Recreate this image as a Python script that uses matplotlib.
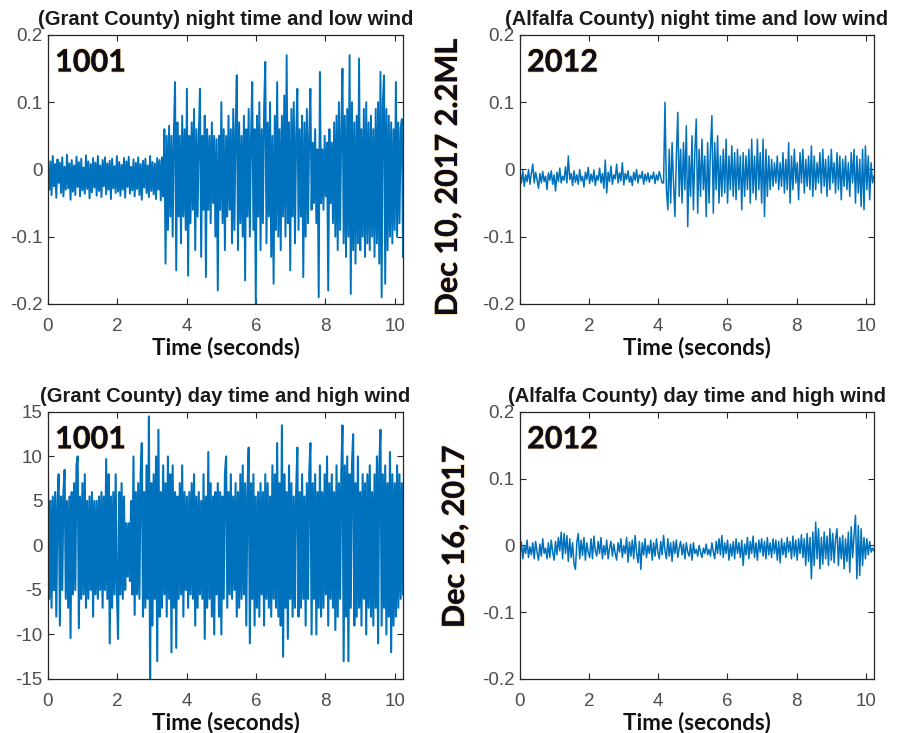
import numpy as np
import matplotlib
matplotlib.use("Agg")
import matplotlib.pyplot as plt
import matplotlib.patheffects as pe

plt.rcParams['axes.unicode_minus'] = False

# recorded ground motion, 10.24 s windows
DURATION = 10.24

grant_night = [
    0.005, -0.03, 0.012, -0.038, 0.02, -0.025, 0.008, -0.042, 0.015, -0.02,
    0.01, -0.035, 0.018, -0.04, 0.004, -0.03, 0.022, -0.028, 0.009, -0.045,
    0.014, -0.033, 0.006, -0.038, 0.019, -0.026, 0.011, -0.04, 0.016, -0.031,
    0.003, -0.036, 0.021, -0.029, 0.012, -0.043, 0.008, -0.034, 0.017, -0.027,
    0.01, -0.039, 0.02, -0.032, 0.006, -0.041, 0.014, -0.025, 0.018, -0.037,
    0.009, -0.03, 0.013, -0.044, 0.016, -0.028, 0.005, -0.035, 0.02, -0.033,
    0.011, -0.039, 0.007, -0.03, 0.017, -0.042, 0.012, -0.026, 0.019, -0.036,
    0.004, -0.031, 0.015, -0.04, 0.01, -0.029, 0.018, -0.038, 0.008, -0.045,
    0.013, -0.027, 0.016, -0.035, 0.006, -0.041, 0.02, -0.032, 0.011, -0.037,
    0.009, -0.044, 0.017, -0.03, 0.014, -0.046, 0.018, -0.04,
    0.06, -0.14,
    0.05, -0.09, 0.065, -0.07, 0.05, -0.1, 0.055, 0.13, -0.15, 0.07,
    -0.07, 0.05, -0.11, 0.08, -0.07, 0.06, -0.09, 0.12, -0.158, 0.05,
    -0.08, 0.07, -0.06, 0.09, -0.12, 0.06, -0.07, 0.05, 0.12, -0.13,
    0.05, -0.06, 0.08, -0.16, 0.06, -0.06, 0.05, -0.08, 0.07, -0.05,
    0.05, -0.1, 0.045, -0.18, 0.05, -0.06, 0.10, -0.08, 0.06, -0.12,
    0.05, -0.07, 0.08, -0.06, 0.06, -0.11, 0.09, -0.09, 0.06, 0.14,
    -0.12, 0.07, -0.08, 0.05, -0.1, 0.08, -0.165, 0.06, -0.07, 0.09,
    -0.1, 0.05, 0.13, -0.09, 0.06, -0.2, 0.08, -0.07, 0.1, -0.12,
    0.06, -0.08, 0.09, 0.16, -0.11, 0.07, -0.07, 0.1, -0.13, 0.05,
    -0.17, 0.08, -0.09, 0.13, -0.1, 0.06, -0.12, 0.08, -0.07, 0.11,
    -0.1, 0.17, -0.08, 0.07, -0.15, 0.09, -0.07, 0.1, -0.11, 0.05,
    0.12, -0.09, 0.06, -0.07, 0.08, -0.16, 0.07, -0.1, 0.09, -0.08,
    0.05, 0.12, -0.06, 0.04, -0.05, 0.06, -0.08, 0.03, -0.19, 0.145,
    -0.05, 0.03, -0.06, 0.05, -0.04, 0.04, -0.18, 0.06, -0.05, 0.04,
    -0.08, 0.07, -0.1, 0.08, -0.12, 0.1, -0.09, 0.06, 0.15, -0.11,
    0.08, -0.13, 0.09, -0.1, 0.17, -0.185, 0.1, -0.12, 0.07, -0.14,
    0.08, -0.11, 0.165, -0.12, 0.06, -0.1, 0.09, -0.13, 0.10, -0.11,
    0.07, -0.12, 0.08, -0.1, 0.06, -0.13, 0.09, -0.11, 0.1, -0.14,
    0.145, -0.19, 0.1, 0.14, -0.17, 0.09, -0.12, 0.08, -0.1, 0.07,
    -0.11, 0.06, -0.09, 0.13, -0.1, 0.07, -0.08, 0.06, 0.075, -0.13,
]

alfalfa_night = [
    -0.005, -0.02, -0.002, -0.025, -0.008, -0.018, 0.0, -0.022, -0.006, 0.008,
    -0.02, -0.004, -0.015, -0.028, -0.006, -0.02, -0.003, -0.018, -0.01, -0.03,
    -0.005, -0.016, -0.002, -0.022, -0.008, -0.032, -0.004, -0.018, 0.002, -0.02,
    -0.01, -0.016, 0.004, -0.02, 0.02, -0.015, -0.006, -0.024, -0.002, -0.019,
    -0.008, -0.022, 0.0, -0.017, -0.01, -0.026, -0.004, -0.015, 0.003, -0.021,
    -0.007, -0.018, -0.001, -0.024, -0.009, -0.016, 0.002, -0.02, -0.006, -0.028,
    0.014, -0.035, -0.004, -0.018, 0.005, -0.022, -0.008, -0.014, 0.008, -0.02,
    -0.005, -0.017, 0.01, -0.023, -0.006, -0.015, -0.002, -0.019, -0.01, -0.024,
    -0.004, -0.016, 0.0, -0.02, -0.008, -0.013, -0.003, -0.022, -0.007, -0.017,
    -0.005, -0.019, -0.009, -0.014, -0.004, -0.021, -0.008, -0.016, -0.003, -0.012,
    -0.02,
    -0.02, 0.1, -0.03, -0.06, 0.03, -0.05, 0.04, -0.02, -0.07, 0.02,
    0.085, -0.04, 0.03, -0.05, 0.04, -0.03, 0.065, -0.085, 0.02, -0.04,
    0.05, -0.06, 0.025, 0.075, -0.065, 0.03, -0.04, 0.045, -0.03, 0.02,
    -0.07, 0.04, -0.05, 0.03, 0.08, -0.065, 0.04, -0.03, 0.05, -0.05,
    0.02, -0.04, 0.03, -0.035, 0.045, -0.05, 0.02, -0.03, 0.035, -0.04,
    0.025, -0.045, 0.03, -0.03, 0.02, -0.06, 0.025, -0.04, 0.02, -0.03,
    0.03, -0.05, 0.045, -0.035, 0.02, -0.045, 0.045, -0.03, 0.025, -0.05,
    0.045, -0.07, 0.03, -0.04, 0.02, -0.03, 0.015, -0.025, 0.01, -0.02,
    0.02, -0.03, 0.01, -0.025, 0.025, -0.035, 0.015, -0.03, 0.04, -0.05,
    0.02, -0.03, 0.03, -0.02, 0.01, -0.045, 0.025, -0.02, 0.03, -0.035,
    0.015, -0.025, 0.02, -0.03, 0.035, -0.04, 0.02, -0.03, 0.01, -0.02,
    0.025, -0.035, 0.03, -0.025, 0.015, -0.04, 0.02, -0.03, 0.03, -0.02,
    0.01, -0.035, 0.025, -0.03, 0.02, -0.045, 0.015, -0.025, 0.02, -0.03,
    0.01, -0.04, 0.025, -0.02, 0.03, -0.05, 0.02, -0.035, 0.015, -0.055,
    0.03, -0.06, 0.035, -0.03, 0.02, -0.045, 0.01, -0.02, -0.01,
]

grant_day = [
    7.5, -6, 5, -7, 5.5, -5, 6, -8, 5, 8,
    -9, 5.5, -5, 6, 8.5, -6, 5, -7, 5.5, -10.4,
    6, -5.5, 7, -5, 9, 10, -9.3, 5.5, -6, 7,
    -5.5, 8, -7, 5, -6, 5.5, -5, 6, -8, 5,
    -5.5, 5, -6, 5.5, -5, 6, -7, 5.5, -5, 9.7,
    -6, 8, -11, 5.5, -7, 6, -5.5, 8, -5, -10.5,
    6, -5.5, 7, -6, 5.5, -5, 2.5, -3.5, 2.5, -4,
    5, -5.5, 10, -7.8, 6, -5.5, 7, -6, 8, 11.5,
    -8, 6, -7, 9, -6, 14.5, -15, 7, -9, 8,
    -6, 10, -13, 13, -8, 6, -7, 9, -5.5, 7,
    -8, 10, -6, 8, -12, 9, -7, 6, -11.5, 5.5,
    -6, 7, -5.5, 9, -8, 6, -5, 5.5, -7, 6,
    -5.5, 7, -6, 8, -9, 5.5, -7, 6, -5.5, 5,
    -6, 8, -10.5, 5.5, -7, 10.5, -6, 7, -8, 5.5,
    -10, 6, -5.5, 7, -8, 6, -10, 5.5, -6, 8,
    10, -7, 6, -5.5, 8, -6, 5.5, -5, 7, -8,
    6, -7, 8, -6, 9, -5.5, 7, -9, 6, 11,
    -11, 7, -6, 8, -9, 5.5, -7, 6, -8, 7,
    -5.5, 6, -9, 8, -6, 7, -7, 5.5, -8, 9,
    -6, 8, -7, 11.5, -8, 7, -9, 13.5, -12.5, 8,
    -7, 6, -10.5, 9, -6, 7, -8, 5.5, -7, 6,
    11, -8, 6, -7, 8, -6, 5.5, -9, 7, -6,
    8, 11.5, -10, 7, -6, 8, -10, 6, -7, 9,
    -8, 6, -7, 8, -5.5, 10, -9, 7, -6, 8,
    -7, 6, -9.5, 9, -8, 7, -6, 8, 13.5, -13,
    9, -8, 10, -13, 8, -7, 9, 12.5, -9, 7,
    -8, 10, -7, 6, -9, 8, -6, 7, -10, 8,
    -7, 9, -8, 6, -9, 8, -7, 10, -11, 9,
    13, -9, 8, -7, 9, -10, 7, -8, 10.5, -12,
    8, -9, 7, -8, 9, -7, 8, -6, 7, -5.5,
]

alfalfa_day = [
    -0.015, 0.005, -0.02, 0.0, -0.012, 0.008, -0.018, -0.002, -0.014, 0.004,
    -0.02, 0.006, -0.01, -0.022, 0.002, -0.016, 0.01, -0.012, -0.004, -0.02,
    0.004, -0.018, 0.008, -0.01, -0.022, 0.006, -0.014, 0.012, -0.008, 0.02,
    -0.02, 0.018, -0.012, 0.015, -0.024, 0.01, -0.018, 0.004, -0.028, -0.036,
    0.005, 0.018, -0.02, 0.008, -0.015, 0.012, -0.022, 0.004, -0.01, -0.018,
    0.01, -0.02, 0.014, -0.008, -0.016, 0.006, -0.012, 0.012, -0.02, 0.0,
    -0.014, 0.008, -0.02, -0.004, 0.006, -0.016, 0.002, -0.012, -0.022, 0.004,
    -0.01, 0.01, -0.018, 0.0, -0.012, 0.012, -0.025, 0.005, -0.016, 0.008,
    -0.02, 0.015, -0.01, -0.026, 0.006, -0.036, 0.004, -0.014, 0.01, -0.018,
    0.0, -0.012, 0.008, -0.022, 0.004, -0.016, 0.01, -0.01, -0.02, 0.006,
    -0.014, 0.015, -0.008, -0.02, 0.01, -0.016, 0.004, -0.024, 0.006, -0.012,
    0.008, -0.018, -0.004, 0.006, -0.014, 0.002, -0.02, 0.004, -0.01, -0.016,
    0.002, -0.022, 0.004, -0.012, -0.006, -0.016, 0.0, -0.01, -0.018, -0.004,
    -0.012, 0.002, -0.014, -0.006, -0.016, 0.004, -0.01, -0.02, 0.006, -0.012,
    0.01, -0.014, 0.015, -0.018, 0.004, -0.012, 0.008, -0.022, 0.002, -0.016,
    0.006, -0.02, 0.01, -0.012, 0.004, -0.018, 0.008, -0.03, 0.002, -0.014,
    0.012, -0.02, 0.006, -0.012, 0.014, -0.018, 0.004, -0.022, 0.008, -0.01,
    0.01, -0.016, 0.006, -0.02, 0.012, -0.014, 0.004, -0.018, 0.01, -0.012,
    0.008, -0.022, 0.006, -0.026, 0.01, -0.014, 0.004, -0.018, 0.012, -0.01,
    0.006, -0.02, 0.014, -0.016, 0.008, -0.022, 0.01, -0.012, 0.016, -0.018,
    0.01, -0.03, 0.018, -0.024, 0.012, -0.05, 0.02, -0.03, 0.035, -0.02,
    0.025, -0.035, 0.012, -0.028, 0.02, -0.02, 0.014, -0.03, 0.025, -0.022,
    0.018, -0.026, 0.01, 0.025, -0.03, 0.012, -0.02, 0.015, -0.035, 0.01,
    -0.024, 0.02, -0.04, 0.028, -0.018, 0.015, 0.045, -0.05, 0.03, -0.045,
    0.025, -0.03, 0.012, -0.02, 0.01, -0.014, 0.006, -0.01, -0.004, -0.008,
]

small_ticks = [-0.2, -0.1, 0, 0.1, 0.2]
small_labels = ['-0.2', '-0.1', '0', '0.1', '0.2']
big_ticks = [-15, -10, -5, 0, 5, 10, 15]
big_labels = ['-15', '-10', '-5', '0', '5', '10', '15']
time_ticks = [0, 2, 4, 6, 8, 10]

LINE = '#0072BD'
TICK_GREY = '#4d4d4d'
glow = [pe.withStroke(linewidth=1.3, foreground='#e9a23b', alpha=0.45), pe.Normal()]

panels = [
    ([0.0535, 0.5853, 0.3958, 0.367], grant_night, '(Grant County) night time and low wind',
     small_ticks, small_labels, '1001', 1.4),
    ([0.5797, 0.5853, 0.3946, 0.367], alfalfa_night, '(Alfalfa County) night time and low wind',
     small_ticks, small_labels, '2012', 1.1),
    ([0.0535, 0.0737, 0.3958, 0.3643], grant_day, '(Grant County) day time and high wind',
     big_ticks, big_labels, '1001', 1.5),
    ([0.5797, 0.0737, 0.3946, 0.3643], alfalfa_day, '(Alfalfa County) day time and high wind',
     small_ticks, small_labels, '2012', 1.1),
]

fig = plt.figure(figsize=(8.97, 7.33), dpi=100)

for rect, sig, title, yt, yl, station, lw in panels:
    ax = fig.add_axes(rect)
    t = np.linspace(0, DURATION, len(sig))
    ax.plot(t, sig, color=LINE, lw=lw)
    ax.set_xlim(0, DURATION)
    ax.set_ylim(yt[0], yt[-1])
    ax.set_xticks(time_ticks)
    ax.set_xticklabels([str(v) for v in time_ticks])
    ax.set_yticks(yt)
    ax.set_yticklabels(yl)
    ax.tick_params(direction='in', top=True, right=True, length=4, width=0.8,
                   colors='#262626', labelcolor=TICK_GREY, labelsize=13.5)
    ax.tick_params(axis='x', pad=10)
    ax.tick_params(axis='y', pad=4)
    for lab in ax.get_xticklabels() + ax.get_yticklabels():
        lab.set_fontfamily('Liberation Sans')
    for sp in ax.spines.values():
        sp.set_color('#262626')
        sp.set_linewidth(0.9)
    ax.set_title(title, fontsize=14.5, fontweight='bold', family='Liberation Sans',
                 color='#1a1a1a', pad=7)
    ax.set_xlabel('Time (seconds)', fontsize=16, fontweight='bold', family='Lato',
                  color='#111111', labelpad=1)
    ax.text(0.02, 0.95, station, transform=ax.transAxes, ha='left', va='top',
            fontsize=22, fontweight='bold', family='Lato', color='#0d0d1a',
            path_effects=glow)

fig.text(448 / 897, 1 - 178 / 733, 'Dec 10, 2017 2.2ML', rotation=90, ha='center', va='center',
         fontsize=22, fontweight='bold', family='Lato', color='#0d0d1a', path_effects=glow)
fig.text(455 / 897, 1 - 537 / 733, 'Dec 16, 2017', rotation=90, ha='center', va='center',
         fontsize=22, fontweight='bold', family='Lato', color='#0d0d1a', path_effects=glow)

fig.savefig('out.png', dpi=100, facecolor='white')
